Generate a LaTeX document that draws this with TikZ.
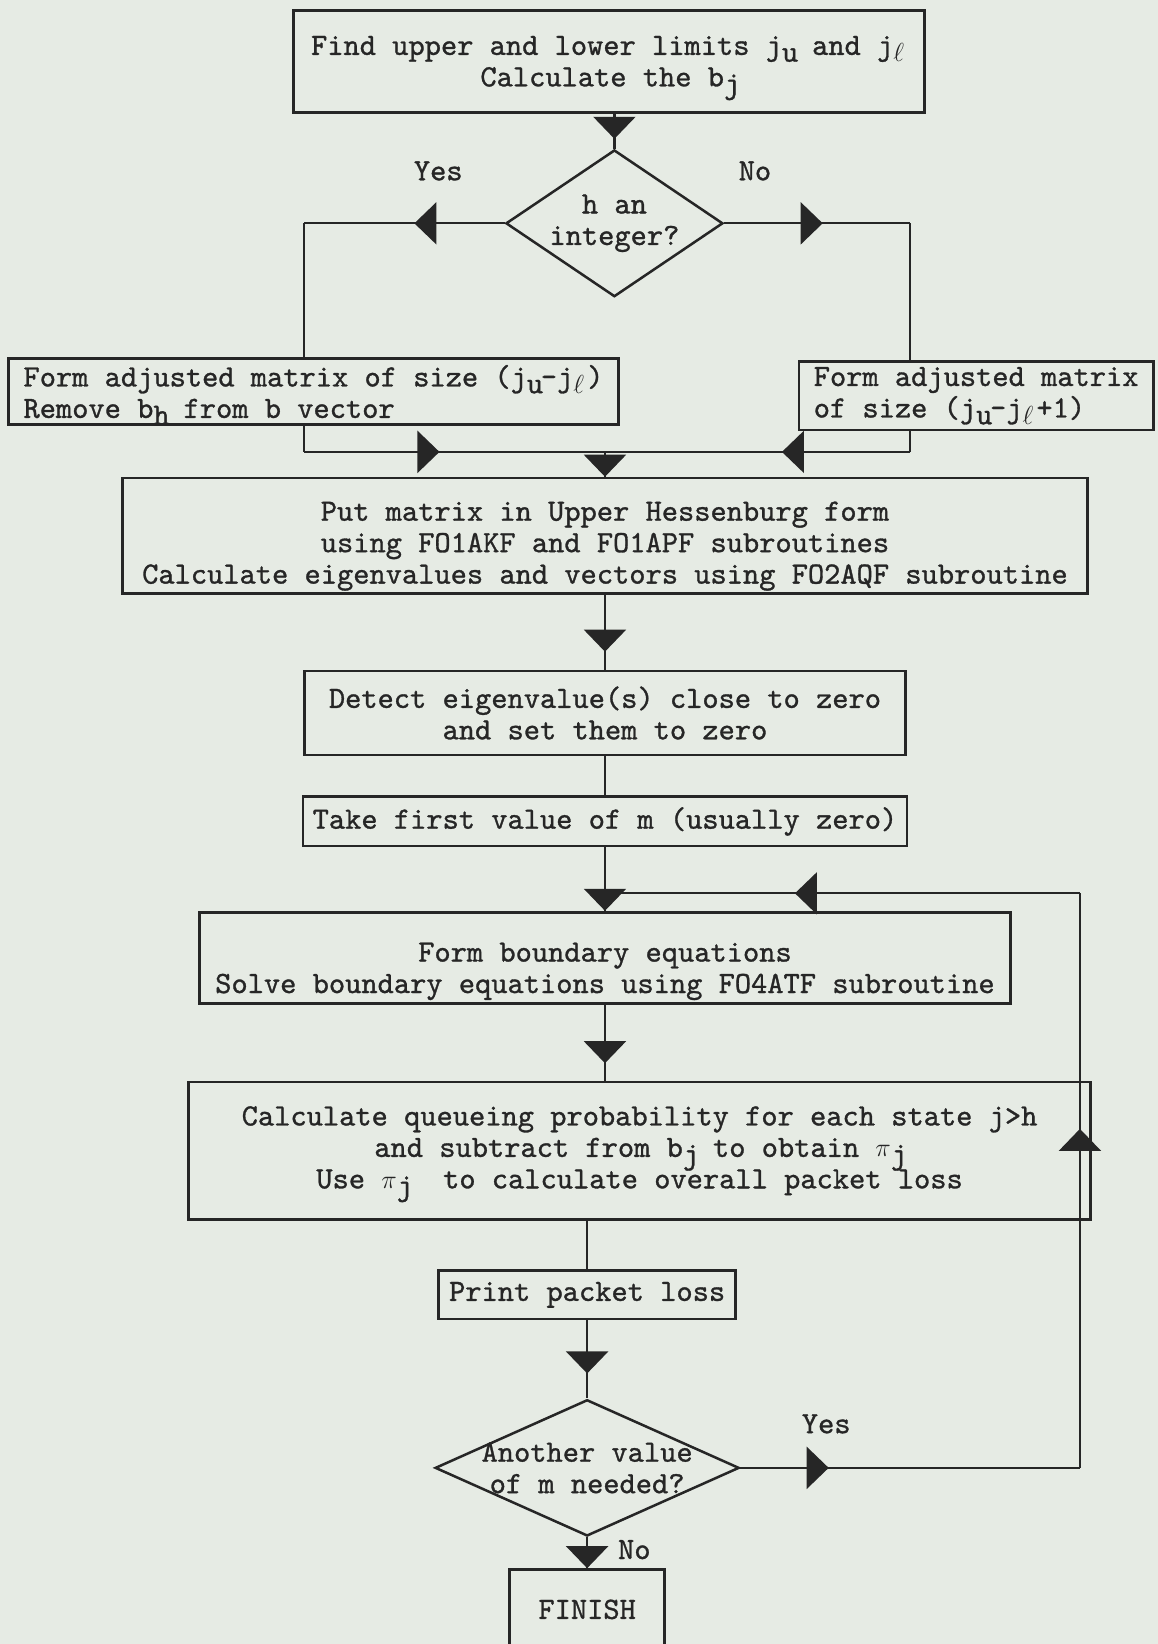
\documentclass[tikz,border=0pt]{standalone}
\usepackage{fontspec}
\usepackage{tikz}
\usetikzlibrary{
  shapes.geometric,
  arrows.meta,
  positioning,
  decorations.markings,
  calc
}
\definecolor{ink}{RGB}{38,38,38}
\definecolor{paper}{RGB}{230,235,228}
\newfontfamily\typer{lmmono10-regular.otf}[FakeBold=1]
\newcommand{\flowfont}{\fontsize{29.5}{30}\selectfont\typer}
\newcommand{\tsub}[1]{\smash{\raisebox{-0.22em}{\makebox[0.45em][l]{#1}}}}

\begin{document}
\begin{tikzpicture}[
  x=1pt, y=-1pt,
  stepbox/.style={
    rectangle, draw=ink, line width=2.6pt, inner sep=0pt,
    align=center, font=\flowfont, text=ink
  },
  decision/.style={
    diamond, draw=ink, line width=2.4pt, inner sep=0pt
  },
  txt/.style={font=\flowfont, text=ink, align=center, inner sep=0pt},
  flow/.style={draw=ink, line width=2.2pt},
  midtip/.style={
    postaction={decorate},
    decoration={markings,
      mark=at position #1 with {\arrow[ink]{Triangle[length=21pt,width=40pt]}}}
  }
]
  \useasboundingbox (0,0) rectangle (1104,1568);
  \fill[paper] (0,0) rectangle (1104,1568);

  % boxes and decisions
  \node[stepbox, minimum width=602pt, minimum height=97pt] (limits) at (581,58.5)
    {Find upper and lower limits j\tsub{u} and j\tsub{$\ell$}\\Calculate the b\tsub{j}};
  \node[decision, minimum width=207pt, minimum height=140pt] (integer) at (586,213) {};
  \node[txt] (integertext) at (integer) {h an\\integer?};
  \node[txt] (yesint) at (418,163) {Yes};
  \node[txt] (noint) at (720,163) {No};

  \node[stepbox, align=left, minimum width=582pt, minimum height=63pt] (adjfull) at (299,373.5)
    {Form adjusted matrix of size (j\tsub{u}-j\tsub{$\ell$})\\Remove b\tsub{h} from b vector};
  \node[stepbox, align=left, minimum width=338pt, minimum height=65pt] (adjplus) at (931,377.5)
    {Form adjusted matrix\\of size (j\tsub{u}-j\tsub{$\ell$}+1)};

  \node[stepbox, minimum width=920pt, minimum height=110pt] (hessen) at (577,511)
    {\rule{0pt}{38pt}Put matrix in Upper Hessenburg form\\using FO1AKF and FO1APF subroutines\\Calculate eigenvalues and vectors using FO2AQF subroutine};
  \node[stepbox, minimum width=573pt, minimum height=80pt] (detect) at (577,680)
    {Detect eigenvalue(s) close to zero\\and set them to zero};
  \node[stepbox, minimum width=576pt, minimum height=47pt] (firstm) at (577,783.5)
    {Take first value of m (usually zero)};
  \node[stepbox, minimum width=773pt, minimum height=87pt] (boundary) at (577,913.5)
    {\rule{0pt}{44pt}Form boundary equations\\Solve boundary equations using FO4ATF subroutine};
  \node[stepbox, minimum width=860pt, minimum height=131pt] (queue) at (610,1097.5)
    {Calculate queueing probability for each state j>h\\and subtract from b\tsub{j} to obtain \(\pi\)\tsub{j}\\Use \(\pi\)\tsub{j}\ \ to calculate overall packet loss};
  \node[stepbox, minimum width=283pt, minimum height=46pt] (printloss) at (560,1235)
    {Print packet loss};
  \node[decision, minimum width=290pt, minimum height=130pt] (another) at (560,1400) {};
  \node[txt] (anothertext) at (another) {Another value\\of m needed?};
  \node[txt] (yesloop) at (788,1358) {Yes};
  \node[txt] (noend) at (605,1478) {No};
  \node[stepbox, minimum width=148pt, minimum height=76pt] (finish) at (560,1535) {FINISH};

  % branch points
  \coordinate (yescorner) at (290,213);
  \coordinate (nocorner) at (868,213);
  \coordinate (merge) at (577,431);
  \coordinate (looplow) at (1030,1400);
  \coordinate (loophigh) at (1030,852);
  \coordinate (loopin) at (577,852);

  % connectors
  \draw[flow, midtip=0.72] (limits.south -| integer) -- (integer.north);
  \draw[flow, midtip=0.45] (integer.west) -- (yescorner);
  \draw[flow] (yescorner) -- (yescorner |- adjfull.north);
  \draw[flow, midtip=0.53] (integer.east) -- (nocorner);
  \draw[flow] (nocorner) -- (nocorner |- adjplus.north);

  \draw[flow] (yescorner |- adjfull.south) -- (yescorner |- merge);
  \draw[flow, midtip=0.45] (yescorner |- merge) -- (merge);
  \draw[flow] (nocorner |- adjplus.south) -- (nocorner |- merge);
  \draw[flow, midtip=0.42] (nocorner |- merge) -- (merge);
  \draw[flow, midtip=1] (merge) -- (hessen.north);

  \draw[flow, midtip=0.76] (hessen.south) -- (detect.north);
  \draw[flow] (detect.south) -- (firstm.north);
  \draw[flow, midtip=1] (firstm.south) -- (boundary.north);
  \draw[flow, midtip=0.77] (boundary.south) -- (boundary.south |- queue.north);
  \draw[flow] (queue.south -| printloss) -- (printloss.north);
  \draw[flow, midtip=0.68] (printloss.south) -- (another.north);

  % loop back for the next m
  \draw[flow, midtip=0.26] (another.east) -- (looplow);
  \draw[flow, midtip=0.59] (looplow) -- (loophigh);
  \draw[flow, midtip=0.6] (loophigh) -- (loopin);
  \draw[flow, midtip=1] (another.south) -- (finish.north);
\end{tikzpicture}
\end{document}
